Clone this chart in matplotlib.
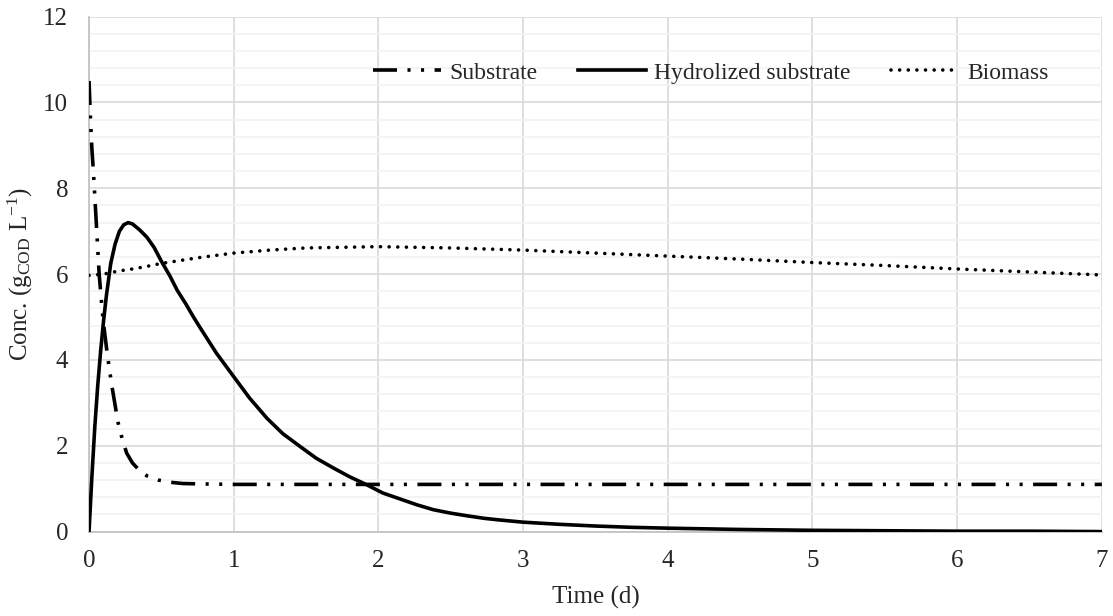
"""Batch digestion model: substrate, hydrolized substrate and biomass over time."""

import matplotlib
matplotlib.use("Agg")
import matplotlib.pyplot as plt
from matplotlib.ticker import MultipleLocator

plt.rcParams["font.family"] = ["Liberation Serif", "DejaVu Serif"]
plt.rcParams["mathtext.fontset"] = "custom"
plt.rcParams["mathtext.rm"] = "Liberation Serif"
plt.rcParams["mathtext.it"] = "Liberation Serif:italic"

# Substrate (g COD / L)
t_substrate = [0, 0.01, 0.02, 0.03, 0.04, 0.05, 0.06, 0.07, 0.08, 0.09, 0.10,
               0.12, 0.14, 0.16, 0.18, 0.20, 0.23, 0.26, 0.30, 0.35, 0.40,
               0.48, 0.56, 0.65, 0.80, 1.0, 2.0, 3.0, 4.0, 5.0, 6.0, 7.0]
substrate = [10.5, 9.6, 8.9, 8.4, 7.8, 7.2, 6.6, 6.0, 5.6, 5.2, 4.85,
             4.3, 3.8, 3.35, 2.95, 2.55, 2.15, 1.83, 1.6, 1.42, 1.3,
             1.2, 1.15, 1.12, 1.11, 1.1, 1.1, 1.1, 1.1, 1.1, 1.1, 1.1]

# Hydrolized substrate
t_hydrolized = [0, 0.02, 0.04, 0.06, 0.08, 0.10, 0.12, 0.15, 0.18, 0.21, 0.24,
                0.27, 0.30, 0.35, 0.40, 0.45, 0.50, 0.56, 0.61, 0.67, 0.72,
                0.77, 0.88, 1.0, 1.11, 1.23, 1.34, 1.46, 1.57, 1.69, 1.80,
                1.92, 2.03, 2.15, 2.27, 2.38, 2.50, 2.61, 2.73, 2.84, 3.0,
                3.25, 3.5, 3.75, 4.0, 4.5, 5.0, 5.5, 6.0, 6.5, 7.0]
hydrolized = [0, 1.3, 2.45, 3.4, 4.2, 4.9, 5.5, 6.25, 6.7, 7.0, 7.15,
              7.2, 7.17, 7.03, 6.86, 6.62, 6.3, 5.95, 5.62, 5.3, 5.01,
              4.74, 4.16, 3.61, 3.11, 2.64, 2.28, 1.98, 1.71, 1.48, 1.28,
              1.09, 0.90, 0.76, 0.62, 0.51, 0.43, 0.37, 0.31, 0.27, 0.22,
              0.17, 0.13, 0.10, 0.08, 0.05, 0.03, 0.02, 0.01, 0.01, 0.0]

# Biomass
t_biomass = [0, 0.1, 0.2, 0.3, 0.4, 0.5, 0.75, 1.0, 1.25, 1.5, 2.0, 2.5,
             3.0, 3.5, 4.0, 4.5, 5.0, 5.5, 6.0, 6.5, 7.0]
biomass = [5.97, 6.0, 6.07, 6.12, 6.18, 6.25, 6.38, 6.49, 6.56, 6.61, 6.64,
           6.61, 6.56, 6.49, 6.42, 6.35, 6.27, 6.2, 6.12, 6.05, 5.98]

fig = plt.figure(figsize=(11.13, 6.16), dpi=100)
ax = fig.add_axes([0.080, 0.137, 0.910, 0.836])

lw = 2.6
ax.plot(t_substrate, substrate, color="black", lw=lw,
        linestyle=(0, (6.65, 2.9, 0.85, 2.9, 0.85, 2.9)),
        label="Substrate", zorder=3)
ax.plot(t_hydrolized, hydrolized, color="black", lw=lw,
        linestyle="-", label="Hydrolized substrate", zorder=3)
ax.plot(t_biomass, biomass, color="black", lw=lw,
        linestyle=(0, (0.01, 2.38)), dash_capstyle="round",
        label="Biomass", zorder=3)

ax.set_xlim(0, 7)
ax.set_ylim(0, 12)
ax.xaxis.set_major_locator(MultipleLocator(1))
ax.yaxis.set_major_locator(MultipleLocator(2))
ax.yaxis.set_minor_locator(MultipleLocator(0.4))

ax.grid(True, which="major", axis="both", color="#d9d9d9", lw=1.2)
ax.grid(True, which="minor", axis="y", color="#f2f2f2", lw=1.2)
ax.set_axisbelow(True)
for side in ["top", "right"]:
    ax.spines[side].set_visible(False)
for side in ["left", "bottom"]:
    ax.spines[side].set_color("#bfbfbf")
    ax.spines[side].set_linewidth(1.2)

ax.tick_params(axis="both", which="both", length=0, labelsize=18,
               colors="#262626")
ax.tick_params(axis="y", pad=15)
ax.tick_params(axis="x", pad=13)

ax.set_xlabel("Time (d)", fontsize=18, color="#262626", labelpad=10)
ax.set_ylabel(r"Conc. (g$_{\mathrm{COD}}$ L$^{\mathrm{-1}}$)", fontsize=18,
              color="#262626")
ax.yaxis.set_label_coords(-0.053, 0.5)

leg = ax.legend(loc="center", bbox_to_anchor=(0.614, 0.891), ncol=3,
                frameon=False, fontsize=17, handlelength=2.9,
                handletextpad=0.35, columnspacing=1.7)
for txt in leg.get_texts():
    txt.set_color("#262626")

fig.savefig("out.png", dpi=100)
